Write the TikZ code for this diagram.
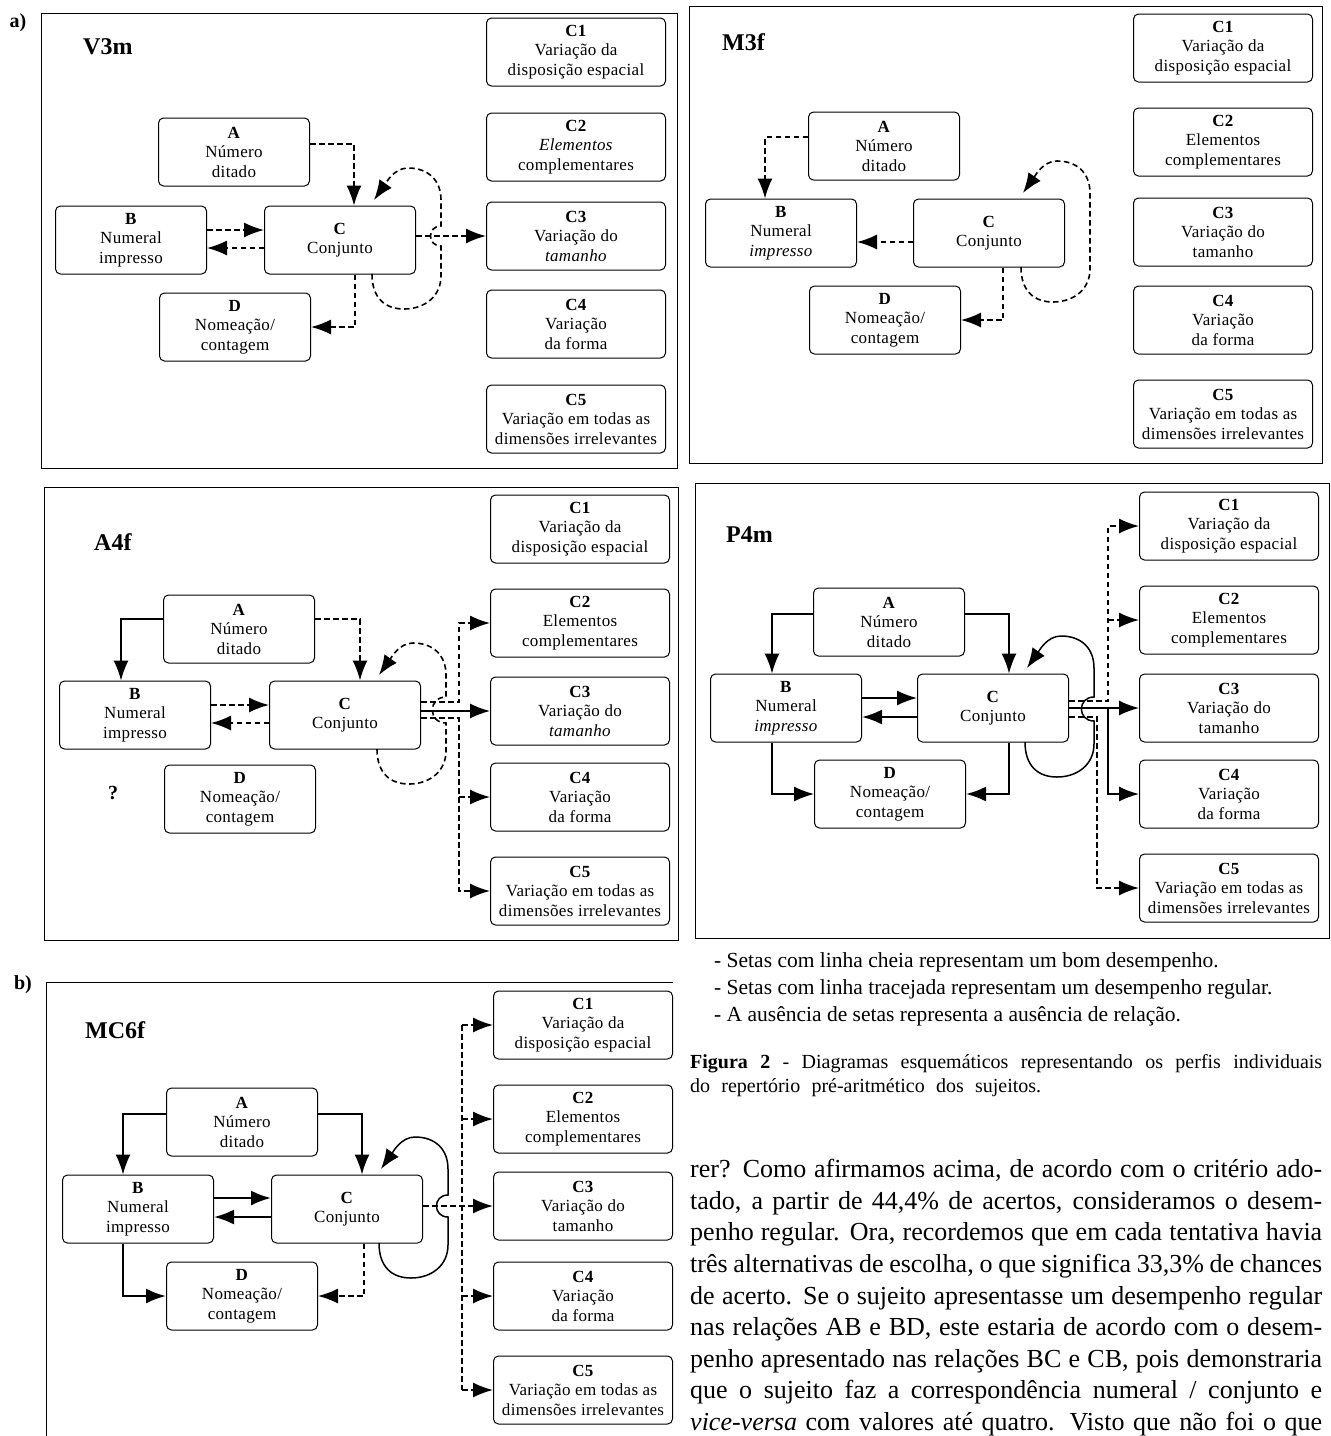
\documentclass[tikz,border=0pt]{standalone}
\usepackage{fontspec}
\setmainfont{Liberation Serif}
\newfontfamily\bxf{Liberation Serif}[LetterSpace=2]
\usetikzlibrary{arrows.meta,calc}

\tikzset{
  bx/.style={draw, line width=1pt, rounded corners=5pt, minimum width=151pt, minimum height=68pt, inner sep=0pt, align=center, font=\bxf\fontsize{17pt}{19.5pt}\selectfont},
  cbx/.style={bx, minimum width=179pt},
  dsh/.style={line width=1.6pt, dash pattern=on 5.5pt off 3.5pt},
  sld/.style={line width=1.5pt},
  thk/.style={line width=2.2pt},
  arr/.style={-{Latex[length=20pt,width=15pt]}},
  frm/.style={line width=1pt},
  ttl/.style={anchor=west, inner sep=0pt, font=\fontsize{24pt}{26pt}\selectfont\bfseries},
  lbl/.style={inner sep=0pt, font=\fontsize{20pt}{22pt}\selectfont\bfseries},
  txt/.style={anchor=base west, inner sep=0pt},
}

\newcommand\selfloop[4]{%
  \begin{scope}[shift={(#1.center)}]
    \draw[#2,arr] (32,34) .. controls (32,58) and (45,69) .. (64,69)
      .. controls (85,69) and (101,56) .. (101,36) -- (101,{#3+#4})
      .. controls ({101-1.4*#4},{#3+#4}) and ({101-1.4*#4},{#3-#4}) .. (101,{#3-#4})
      -- (101,-40) .. controls (101,-60) and (88,-72) .. (68,-72)
      .. controls (54,-72) and (46,-57) .. (34,-40);
  \end{scope}}
\newcommand\selfloopnh[2]{%
  \begin{scope}[shift={(#1.center)}]
    \draw[#2,arr] (32,34) .. controls (32,58) and (45,69) .. (64,69)
      .. controls (85,69) and (101,56) .. (101,36)
      -- (101,-40) .. controls (101,-60) and (88,-72) .. (68,-72)
      .. controls (54,-72) and (46,-57) .. (34,-40);
  \end{scope}}
\newcommand\colboxes[9]{%
  \node[cbx] (#1C1) at (#2,#3) {\textbf{C1}\\Variação da\\disposição espacial};
  \node[cbx] (#1C2) at (#2,#4) {\textbf{C2}\\#8\\complementares};
  \node[cbx] (#1C3) at (#2,#5) {\textbf{C3}\\Variação do\\#9};
  \node[cbx] (#1C4) at (#2,#6) {\textbf{C4}\\Variação\\da forma};
  \node[cbx] (#1C5) at (#2,#7) {\textbf{C5}\\Variação em todas as\\dimensões irrelevantes};}

\begin{document}
\begin{tikzpicture}[x=1pt,y=-1pt]
\fill[white] (0,0) rectangle (1331,1436);
\useasboundingbox (0,0) rectangle (1331,1436);

% ---------------- V3m ----------------
\node[lbl] (la) at (18,23) {a)};
\draw[frm] (41,13) rectangle (677,468);
\node[ttl] (vT) at (83,47) {V3m};
\node[bx] (vA) at (234,152) {\textbf{A}\\Número\\ditado};
\node[bx] (vB) at (131,240) {\textbf{B}\\Numeral\\impresso};
\node[bx] (vC) at (340,240) {\textbf{C}\\Conjunto};
\node[bx] (vD) at (235,327) {\textbf{D}\\Nomeação/\\contagem};
\colboxes{v}{576}{52}{147}{236}{324}{419}{\textit{Elementos}}{\textit{tamanho}}
\draw[dsh,arr] ([yshift=8pt]vA.east) -| ([xshift=14pt]vC.north);
\draw[dsh,arr] ([yshift=10pt]vB.east) -- ([yshift=10pt]vC.west);
\draw[dsh,arr] ([yshift=-8pt]vC.west) -- ([yshift=-8pt]vB.east);
\draw[dsh,arr] ([xshift=15pt]vC.south) |- (vD.east);
\draw[dsh,arr] (vC.east |- vC3.west) -- (vC3.west);
\selfloop{vC}{dsh}{-4}{10}

% ---------------- M3f ----------------
\draw[frm] (689,6) rectangle (1322,463);
\node[ttl] (mT) at (722,42) {M3f};
\node[bx] (mA) at (884,146) {\textbf{A}\\Número\\ditado};
\node[bx] (mB) at (781,233) {\textbf{B}\\Numeral\\\textit{impresso}};
\node[bx] (mC) at (989,233) {\textbf{C}\\Conjunto};
\node[bx] (mD) at (885,320) {\textbf{D}\\Nomeação/\\contagem};
\colboxes{m}{1223}{48}{142}{232}{320}{414}{Elementos}{tamanho}
\draw[dsh,arr] ([yshift=9pt]mA.west) -| ([xshift=-16pt]mB.north);
\draw[dsh,arr] ([yshift=-9pt]mC.west) -- ([yshift=-9pt]mB.east);
\draw[dsh,arr] ([xshift=14pt]mC.south) |- (mD.east);
\selfloopnh{mC}{dsh}

% ---------------- A4f ----------------
\draw[frm] (44,487) rectangle (678,940);
\node[ttl] (aT) at (94,542) {A4f};
\node[bx] (aA) at (239,629) {\textbf{A}\\Número\\ditado};
\node[bx] (aB) at (135,715) {\textbf{B}\\Numeral\\impresso};
\node[bx] (aC) at (345,715) {\textbf{C}\\Conjunto};
\node[bx] (aD) at (240,799) {\textbf{D}\\Nomeação/\\contagem};
\node[lbl] (aQ) at (113,793) {?};
\colboxes{a}{580}{529}{623}{711}{797}{891}{Elementos}{\textit{tamanho}}
\draw[sld,arr] ([yshift=10pt]aA.west) -| ([xshift=-14pt]aB.north);
\draw[dsh,arr] ([yshift=10pt]aA.east) -| ([xshift=15pt]aC.north);
\draw[dsh,arr] ([yshift=10pt]aB.east) -- ([yshift=10pt]aC.west);
\draw[dsh,arr] ([yshift=-8pt]aC.west) -- ([yshift=-8pt]aB.east);
\coordinate (aV2) at ($(aC2.west)+(-31,0)$);
\coordinate (aV4) at ($(aC4.west)+(-31,0)$);
\coordinate (aV5) at ($(aC5.west)+(-31,0)$);
\draw[dsh,arr] ($(aC.east|-aC3.west)+(0,-9)$) -| (aV2) -- (aC2.west);
\draw[sld,arr] (aC.east|-aC3.west) -- (aC3.west);
\draw[dsh,arr] ($(aC.east|-aC3.west)+(0,7)$) -| (aV5) -- (aC5.west);
\draw[dsh,arr] (aV4) -- (aC4.west);
\selfloop{aC}{dsh}{-5}{13}

% ---------------- P4m ----------------
\draw[frm] (695,483) rectangle (1329,938);
\node[ttl] (pT) at (726,535) {P4m};
\node[bx] (pA) at (889,622) {\textbf{A}\\Número\\ditado};
\node[bx] (pB) at (786,708) {\textbf{B}\\Numeral\\\textit{impresso}};
\node[bx] (pC) at (993,708) {\textbf{C}\\Conjunto};
\node[bx] (pD) at (890,794) {\textbf{D}\\Nomeação/\\contagem};
\colboxes{p}{1229}{526}{620}{708}{794}{888}{Elementos}{tamanho}
\draw[sld,arr] ([yshift=8pt]pA.west) -| ([xshift=-14pt]pB.north);
\draw[sld,arr] ([yshift=8pt]pA.east) -| ([xshift=16pt]pC.north);
\draw[sld,arr] ([yshift=10pt]pB.east) -- ([yshift=10pt]pC.west);
\draw[thk,arr] ([yshift=-9pt]pC.west) -- ([yshift=-9pt]pB.east);
\draw[sld,arr] ([xshift=-14pt]pB.south) |- (pD.west);
\draw[thk,arr] ([xshift=16pt]pC.south) |- (pD.east);
\coordinate (pV1) at ($(pC1.west)+(-31,0)$);
\coordinate (pV2) at ($(pC2.west)+(-31,0)$);
\coordinate (pV3) at ($(pC3.west)+(-31,0)$);
\coordinate (pV5) at ($(pC5.west)+(-42,0)$);
\draw[dsh,arr] ($(pC.east|-pC3.west)+(0,-7)$) -| (pV1) -- (pC1.west);
\draw[dsh,arr] (pV2) -- (pC2.west);
\draw[sld,arr] (pC.east|-pC3.west) -- (pC3.west);
\draw[sld,arr] (pV3) |- (pC4.west);
\draw[dsh,arr] ($(pC.east|-pC3.west)+(0,9)$) -| (pV5) -- (pC5.west);
\selfloop{pC}{sld}{1}{12}

% ---------------- MC6f ----------------
\node[lbl] (lb) at (23,985) {b)};
\draw[frm] (673,982) -- (46,982) -- (46,1436);
\node[ttl] (xT) at (85,1030) {MC6f};
\node[bx] (xA) at (242,1122) {\textbf{A}\\Número\\ditado};
\node[bx] (xB) at (138,1209) {\textbf{B}\\Numeral\\impresso};
\node[bx] (xC) at (347,1209) {\textbf{C}\\Conjunto};
\node[bx] (xD) at (242,1296) {\textbf{D}\\Nomeação/\\contagem};
\colboxes{x}{583}{1025}{1119}{1206}{1296}{1390}{Elementos}{tamanho}
\draw[sld,arr] ([yshift=8pt]xA.west) -| ([xshift=-15pt]xB.north);
\draw[sld,arr] ([yshift=8pt]xA.east) -| ([xshift=15pt]xC.north);
\draw[thk,arr] ([yshift=11pt]xB.east) -- ([yshift=11pt]xC.west);
\draw[thk,arr] ([yshift=-8pt]xC.west) -- ([yshift=-8pt]xB.east);
\draw[thk,arr] ([xshift=-15pt]xB.south) |- (xD.west);
\draw[dsh,arr] ([xshift=17pt]xC.south) |- (xD.east);
\draw[dsh,arr] (xC.east|-xC3.west) -- (xC3.west);
\coordinate (xV1) at ($(xC1.west)+(-31,0)$);
\coordinate (xV2) at ($(xC2.west)+(-31,0)$);
\coordinate (xV4) at ($(xC4.west)+(-31,0)$);
\coordinate (xV5) at ($(xC5.west)+(-31,0)$);
\draw[dsh] (xV1) -- (xV5);
\draw[dsh,arr] (xV1) -- (xC1.west);
\draw[dsh,arr] (xV2) -- (xC2.west);
\draw[dsh,arr] (xV4) -- (xC4.west);
\draw[dsh,arr] (xV5) -- (xC5.west);
\selfloop{xC}{sld}{-3}{11}

% ---------------- legend, caption, body ----------------
\begin{scope}[every node/.style={txt, font=\fontsize{21.5pt}{26pt}\selectfont}]
\node (g1) at (714,967) {- Setas com linha cheia representam um bom desempenho.};
\node (g2) at (714,994) {- Setas com linha tracejada representam um desempenho regular.};
\node (g3) at (714,1021) {- A ausência de setas representa a ausência de relação.};
\end{scope}
\begin{scope}[every node/.style={txt, font=\fontsize{20pt}{23pt}\selectfont}]
\node (f1) at (690,1068) {\makebox[632pt][s]{\textbf{Figura 2} - Diagramas esquemáticos representando os perfis individuais}};
\node (f2) at (690,1092) {\makebox[351pt][s]{do repertório pré-aritmético dos sujeitos.}};
\end{scope}
\begin{scope}[every node/.style={txt, font=\fontsize{26pt}{31pt}\selectfont}]
\node (t1) at (690,1177) {\makebox[632pt][s]{rer? Como afirmamos acima, de acordo com o critério ado-}};
\node (t2) at (690,1209) {\makebox[632pt][s]{tado, a partir de 44,4\% de acertos, consideramos o desem-}};
\node (t3) at (690,1240) {\makebox[632pt][s]{penho regular. Ora, recordemos que em cada tentativa havia}};
\node (t4) at (690,1272) {\makebox[632pt][s]{três alternativas de escolha, o que significa 33,3\% de chances}};
\node (t5) at (690,1304) {\makebox[632pt][s]{de acerto. Se o sujeito apresentasse um desempenho regular}};
\node (t6) at (690,1335) {\makebox[632pt][s]{nas relações AB e BD, este estaria de acordo com o desem-}};
\node (t7) at (690,1367) {\makebox[632pt][s]{penho apresentado nas relações BC e CB, pois demonstraria}};
\node (t8) at (690,1398) {\makebox[632pt][s]{que o sujeito faz a correspondência numeral / conjunto e}};
\node (t9) at (690,1430) {\makebox[632pt][s]{\textit{vice-versa} com valores até quatro. Visto que não foi o que}};
\end{scope}
\end{tikzpicture}
\end{document}
